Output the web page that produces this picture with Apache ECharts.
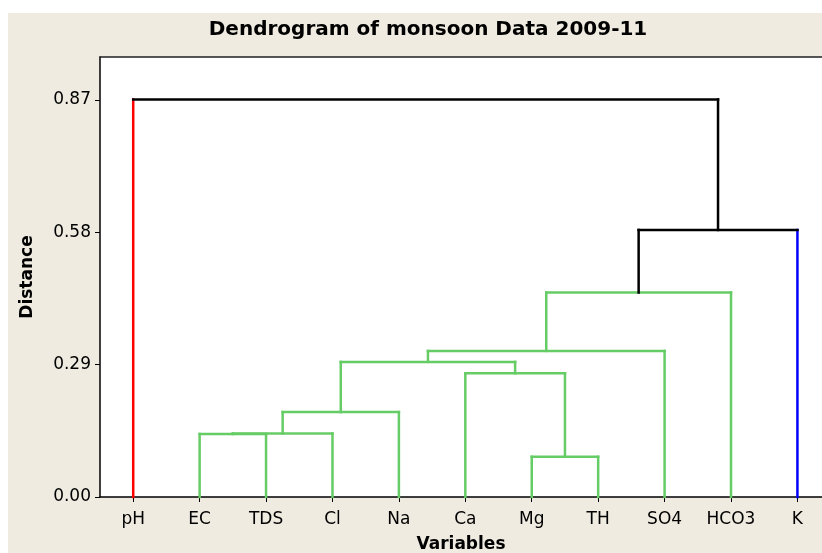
<!DOCTYPE html>
<html>
<head>
<meta charset="utf-8">
<script src="https://cdn.jsdelivr.net/npm/echarts@6/dist/echarts.min.js"></script>
<style>
html,body{margin:0;padding:0;background:#fff;}
#chart{width:822px;height:553px;}
</style>
</head>
<body>
<div id="chart"></div>
<script>
// ---- data ----
const categories = ['pH','EC','TDS','Cl','Na','Ca','Mg','TH','SO4','HCO3','K'];
const yTicks = [0.00, 0.29, 0.58, 0.87];
// linkage: leaves are 0..10, merge k creates node 11+k
const mergeLeft   = [1, 11, 6, 12, 5, 14, 16, 17, 18, 0];
const mergeRight  = [2, 3, 7, 4, 13, 15, 8, 9, 10, 19];
const mergeHeight = [0.138, 0.139, 0.088, 0.186, 0.271, 0.296, 0.320, 0.448, 0.585, 0.871];
const leafCluster = [0, 1, 1, 1, 1, 1, 1, 1, 1, 1, 2];

// ---- styles / layout ----
const clusterColors = ['#ff0000', '#66cc66', '#0000ff'];
const linkColor = '#000000';
const FONT = 'DejaVu Sans';
const X_MIN = -0.5, X_MAX = 10.37;   // plot runs past the right edge of the picture
const Y_MAX = 0.964;

// ---- build segments ----
const n = categories.length;
const catIdx = categories.map((_, i) => i);
const nodeX = [], nodeH = [], nodeCl = [];
for (let i = 0; i < n; i++) { nodeX.push(i); nodeH.push(0); nodeCl.push(leafCluster[i]); }
const segs = [], segColors = [];
function colorOf(id) { return nodeCl[id] >= 0 ? clusterColors[nodeCl[id]] : linkColor; }
for (let k = 0; k < mergeLeft.length; k++) {
  const id = n + k, l = mergeLeft[k], r = mergeRight[k], h = mergeHeight[k];
  nodeX[id] = (nodeX[l] + nodeX[r]) / 2;
  nodeH[id] = h;
  nodeCl[id] = nodeCl[l] === nodeCl[r] ? nodeCl[l] : -1;
  const pc = colorOf(id);
  [l, r].forEach(c => {
    segs.push([nodeX[c], nodeH[c], nodeX[c], h]);
    segColors.push(c < n ? clusterColors[nodeCl[c]] : pc);
  });
  segs.push([nodeX[l], h, nodeX[r], h]);
  segColors.push(pc);
}

const chart = echarts.init(document.getElementById('chart'));
chart.setOption({
  backgroundColor: '#efebe1',
  animation: false,
  graphic: [
    { type: 'rect', shape: { x: 0, y: 0, width: 822, height: 13 }, style: { fill: '#ffffff' }, silent: true },
    { type: 'rect', shape: { x: 0, y: 0, width: 8, height: 553 }, style: { fill: '#ffffff' }, silent: true }
  ],
  title: {
    text: 'Dendrogram of monsoon Data 2009-11',
    left: 423, top: 15, textAlign: 'center',
    textStyle: { fontFamily: FONT, fontWeight: 'bold', fontSize: 20, color: '#000' }
  },
  grid: {
    left: 100, top: 57, right: 0, bottom: 56,
    outerBoundsMode: 'none', containLabel: false,
    show: true, backgroundColor: '#ffffff', borderWidth: 0
  },
  xAxis: [{
    type: 'value', min: X_MIN, max: X_MAX, position: 'bottom',
    axisLine: { onZero: false, lineStyle: { color: '#000', width: 1.5 } },
    axisTick: { show: true, customValues: catIdx, length: 5, lineStyle: { color: '#000' } },
    axisLabel: { customValues: catIdx, formatter: v => categories[Math.round(v)], fontFamily: FONT, fontSize: 17, color: '#000', margin: 14 },
    name: 'Variables', nameLocation: 'middle', nameGap: 39,
    nameTextStyle: { fontFamily: FONT, fontWeight: 'bold', fontSize: 17, color: '#000' },
    splitLine: { show: false }
  }, {
    type: 'value', min: X_MIN, max: X_MAX, position: 'top',
    axisLine: { show: true, onZero: false, lineStyle: { color: '#222', width: 1.5 } },
    axisTick: { show: false }, axisLabel: { show: false }, splitLine: { show: false }
  }],
  yAxis: {
    type: 'value', min: 0, max: Y_MAX,
    axisLine: { show: true, onZero: false, lineStyle: { color: '#000', width: 1.5 } },
    axisTick: { show: true, length: 5, customValues: yTicks, lineStyle: { color: '#000' } },
    axisLabel: { customValues: yTicks, formatter: v => v.toFixed(2), fontFamily: FONT, fontSize: 17, color: '#000', margin: 9 },
    splitLine: { show: false },
    name: 'Distance', nameLocation: 'middle', nameGap: 64, nameRotate: 90,
    nameTextStyle: { fontFamily: FONT, fontWeight: 'bold', fontSize: 17, color: '#000' }
  },
  series: [{
    type: 'custom',
    xAxisIndex: 0, yAxisIndex: 0,
    encode: { x: [0, 2], y: [1, 3] },
    data: segs,
    renderItem: function (params, api) {
      const p1 = api.coord([api.value(0), api.value(1)]);
      const p2 = api.coord([api.value(2), api.value(3)]);
      return {
        type: 'line',
        shape: { x1: p1[0], y1: p1[1], x2: p2[0], y2: p2[1] },
        style: { stroke: segColors[params.dataIndex], lineWidth: 2.5, lineCap: 'square' }
      };
    }
  }]
});
</script>
</body>
</html>
